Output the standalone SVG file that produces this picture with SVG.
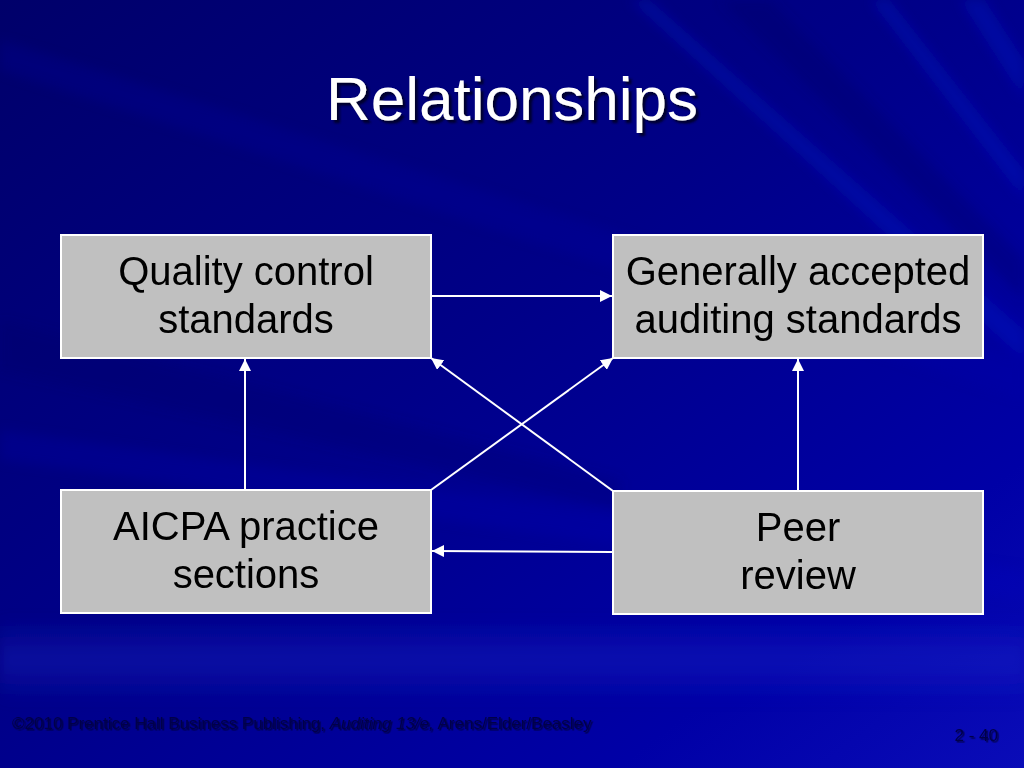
<svg xmlns="http://www.w3.org/2000/svg" width="1024" height="768" viewBox="0 0 1024 768">
  <defs>
    <linearGradient id="bg" x1="0" y1="0" x2="1" y2="1">
      <stop offset="0" stop-color="#00006a"/>
      <stop offset="0.45" stop-color="#000088"/>
      <stop offset="0.8" stop-color="#0000a6"/>
      <stop offset="1" stop-color="#0a0cb8"/>
    </linearGradient>
    <linearGradient id="band" x1="0" y1="0" x2="0" y2="1">
      <stop offset="0" stop-color="#2030d0" stop-opacity="0"/>
      <stop offset="0.5" stop-color="#2030d0" stop-opacity="0.3"/>
      <stop offset="1" stop-color="#2030d0" stop-opacity="0"/>
    </linearGradient>
    <filter id="blur" x="-20%" y="-20%" width="140%" height="140%">
      <feGaussianBlur stdDeviation="6"/>
    </filter>
    <filter id="shadow" x="-10%" y="-10%" width="120%" height="130%">
      <feDropShadow dx="3" dy="3" stdDeviation="0.8" flood-color="#000020" flood-opacity="0.9"/>
    </filter>
    <filter id="fshadow" x="-5%" y="-30%" width="110%" height="160%">
      <feDropShadow dx="1.5" dy="1.5" stdDeviation="0.6" flood-color="#000030" flood-opacity="0.8"/>
    </filter>
    <marker id="arrow" viewBox="0 0 10 10" refX="10" refY="5" markerWidth="6" markerHeight="6" orient="auto" markerUnits="strokeWidth">
      <path d="M0,0 L10,5 L0,10 z" fill="#ffffff"/>
    </marker>
    <style>
      .box { fill: #c0c0c0; stroke: #ffffff; stroke-width: 2; }
      .label { font-family: "Liberation Sans", Arial, sans-serif; font-size: 40px; fill: #000000; text-anchor: middle; }
      .conn { stroke: #ffffff; stroke-width: 2; fill: none; marker-end: url(#arrow); }
      .title { font-family: "Liberation Sans", Arial, sans-serif; font-size: 62px; fill: #ffffff; text-anchor: middle; }
      .foot { font-family: "Liberation Sans", Arial, sans-serif; font-size: 17px; fill: #00004a; }
    </style>
  </defs>

  <!-- background -->
  <rect x="0" y="0" width="1024" height="768" fill="url(#bg)"/>
  <g filter="url(#blur)">
    <polygon points="0,40 0,70 1024,400 1024,360" fill="#0010b0" opacity="0.18"/>
    <polygon points="630,0 650,0 1024,330 1024,360" fill="#0018d0" opacity="0.3"/>
    <polygon points="870,0 890,0 1024,170 1024,200" fill="#0018d0" opacity="0.3"/>
    <polygon points="960,0 985,0 1024,60 1024,100" fill="#0018d0" opacity="0.3"/>
    <polygon points="720,0 770,0 1024,260 1024,300" fill="#000060" opacity="0.25"/>
    <polygon points="0,320 0,370 620,510 620,480" fill="#000060" opacity="0.2"/>
    <polygon points="0,430 0,460 1024,600 1024,570" fill="#0014c0" opacity="0.18"/>
    <rect x="0" y="615" width="1024" height="90" fill="url(#band)"/>
  </g>

  <!-- title -->
  <g id="title">
    <text class="title" x="512" y="120" filter="url(#shadow)">Relationships</text>
  </g>

  <!-- connectors -->
  <g id="connectors">
    <line class="conn" x1="432" y1="296" x2="612" y2="296"/>
    <line class="conn" x1="612" y1="552" x2="432" y2="551"/>
    <line class="conn" x1="245" y1="489" x2="245" y2="359"/>
    <line class="conn" x1="798" y1="490" x2="798" y2="359"/>
    <line class="conn" x1="431" y1="490" x2="613" y2="358"/>
    <line class="conn" x1="613" y1="491" x2="431" y2="358"/>
  </g>

  <!-- nodes -->
  <g id="node-qc">
    <rect class="box" x="61" y="235" width="370" height="123"/>
    <text class="label" x="246" y="285">Quality control</text>
    <text class="label" x="246" y="333">standards</text>
  </g>
  <g id="node-gaas">
    <rect class="box" x="613" y="235" width="370" height="123"/>
    <text class="label" x="798" y="285">Generally accepted</text>
    <text class="label" x="798" y="333">auditing standards</text>
  </g>
  <g id="node-aicpa">
    <rect class="box" x="61" y="490" width="370" height="123"/>
    <text class="label" x="246" y="540">AICPA practice</text>
    <text class="label" x="246" y="588">sections</text>
  </g>
  <g id="node-peer">
    <rect class="box" x="613" y="491" width="370" height="123"/>
    <text class="label" x="798" y="541">Peer</text>
    <text class="label" x="798" y="589">review</text>
  </g>

  <!-- footer -->
  <g id="footer" filter="url(#fshadow)">
    <text class="foot" x="12" y="729">©2010 Prentice Hall Business Publishing, <tspan font-style="italic">Auditing 13/e,</tspan> Arens/Elder/Beasley</text>
    <text class="foot" x="998" y="741" text-anchor="end">2 - 40</text>
  </g>
</svg>
